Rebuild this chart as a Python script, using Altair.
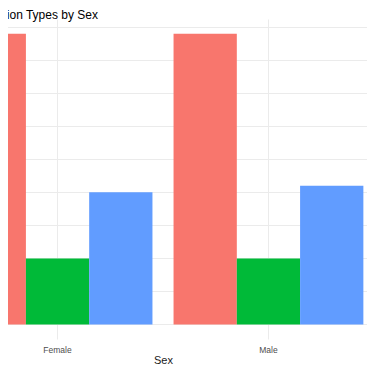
import altair as alt
import pandas as pd

sexes = ["Female", "Male"]
types = ["Emergency", "Inpatient", "Outpatient"]
female_counts = [440, 100, 200]
male_counts = [440, 100, 210]
colors = ["#F8766D", "#00BA38", "#619CFF"]
grid_values = [0, 50, 100, 150, 200, 250, 300, 350, 400, 450]

rows = []
for t, f, m in zip(types, female_counts, male_counts):
    rows.append({"Sex": "Female", "Type": t, "Count": f})
    rows.append({"Sex": "Male", "Type": t, "Count": m})
df = pd.DataFrame(rows)

font = "Liberation Sans"

chart = alt.Chart(df).mark_bar(clip=True).encode(
    x=alt.X(
        "Sex:N",
        sort=sexes,
        scale=alt.Scale(domain=sexes, range=[-77, 387], paddingInner=0.1, paddingOuter=0.15),
        axis=alt.Axis(
            bandPosition=0.5, grid=True, gridColor="#EBEBEB", gridWidth=1,
            ticks=False, tickSize=0, domain=False, labelAngle=0,
            labelFont=font, labelFontSize=8.5, labelColor="#4D4D4D",
            labelBaseline="alphabetic", labelPadding=13,
            title="Sex", titleFont=font, titleFontSize=11, titleFontWeight="normal",
            titleColor="#1A1A1A", titleX=155, titleY=24.5, titleBaseline="alphabetic",
            titleAlign="center",
        ),
    ),
    xOffset=alt.XOffset("Type:N", sort=types, scale=alt.Scale(paddingInner=0, paddingOuter=0)),
    y=alt.Y(
        "Count:Q",
        scale=alt.Scale(domain=[-22, 462.3], nice=False, zero=False),
        axis=alt.Axis(values=grid_values, labels=False, ticks=False, domain=False,
                      grid=True, gridColor="#EBEBEB", gridWidth=1, title=None),
    ),
    color=alt.Color("Type:N", sort=types, scale=alt.Scale(domain=types, range=colors), legend=None),
).properties(
    width=359,
    height=320,
    title=alt.Title("Hospitalization Types by Sex", anchor="start", align="right", dx=90,
                    fontSize=12, font=font, fontWeight="normal", color="#000000", offset=-3),
    padding={"left": 0, "top": 11, "right": 0, "bottom": 26},
    autosize="none",
).configure_view(stroke=None)

chart.save("out.html", embed_options={"renderer": "svg", "actions": False})
